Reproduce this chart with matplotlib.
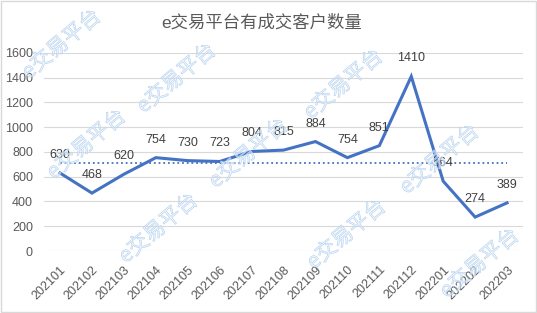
import matplotlib.pyplot as plt
from matplotlib.patches import Rectangle, PathPatch
from matplotlib.textpath import TextPath
from matplotlib.font_manager import FontProperties
from matplotlib.transforms import Affine2D

plt.rcParams['font.family'] = ['Liberation Sans', 'Noto Sans CJK SC', 'DejaVu Sans']

months = ["202101", "202102", "202103", "202104", "202105", "202106", "202107",
          "202108", "202109", "202110", "202111", "202112", "202201", "202202", "202203"]
customers = [630, 468, 620, 754, 730, 723, 804, 815, 884, 754, 851, 1410, 564, 274, 389]
avg = sum(customers) / len(customers)

blue = "#4472C4"
gray = "#595959"

fig = plt.figure(figsize=(5.37, 3.13), dpi=100)
ax = fig.add_axes([0.082, 0.198, 0.892, 0.633])

x = list(range(len(months)))
ax.plot(x, customers, color=blue, lw=2.2, solid_joinstyle="miter", zorder=3)
ax.plot(x, [avg] * len(x), color=blue, lw=1.3, ls=(0, (1, 1.6)), zorder=2)

for i, v in enumerate(customers):
    ax.annotate(str(v), (i, v), xytext=(0, 13), textcoords="offset points",
                ha="center", va="center", fontsize=9, color="#404040", zorder=4)

ax.set_xlim(-0.5, len(months) - 0.5)
ax.set_ylim(0, 1600)
ax.set_yticks(range(0, 1601, 200))
ax.set_xticks(x)
ax.set_xticklabels(months, rotation=45, ha="right", va="top", rotation_mode="anchor")
ax.tick_params(axis="both", length=0, labelsize=9, colors=gray)
ax.tick_params(axis="y", pad=8)
ax.tick_params(axis="x", pad=9)
ax.grid(axis="y", color="#D9D9D9", lw=0.8)
ax.set_axisbelow(True)
for s in ax.spines.values():
    s.set_visible(False)

fig.text(262 / 537, 1 - 22 / 313, "e交易平台有成交客户数量", ha="center", va="center",
         fontsize=12.5, color=gray)

# watermark, outline only (pixel coords, from top-left)
marks = [(60, 43), (85, 143), (175, 77), (157, 227), (247, 152),
         (342, 83), (345, 233), (438, 158), (478, 262)]
tp = TextPath((0, 0), "e交易平台", size=21, prop=FontProperties(family="Noto Sans CJK SC"))
ext = tp.get_extents()
cx, cy = (ext.x0 + ext.x1) / 2, (ext.y0 + ext.y1) / 2
for mx, my in marks:
    tr = Affine2D().translate(-cx, -cy).rotate_deg(40).translate(mx, 313 - my)
    fig.patches.append(PathPatch(tp, transform=tr, facecolor=(0.93, 0.96, 0.99, 0.6),
                                 edgecolor="#B4D0EE", lw=0.45, zorder=10))

fig.patches.append(Rectangle((0.001, 0.002), 0.997, 0.995, transform=fig.transFigure,
                             fill=False, edgecolor="#D9D9D9", lw=1))

fig.savefig("out.png", dpi=100)
